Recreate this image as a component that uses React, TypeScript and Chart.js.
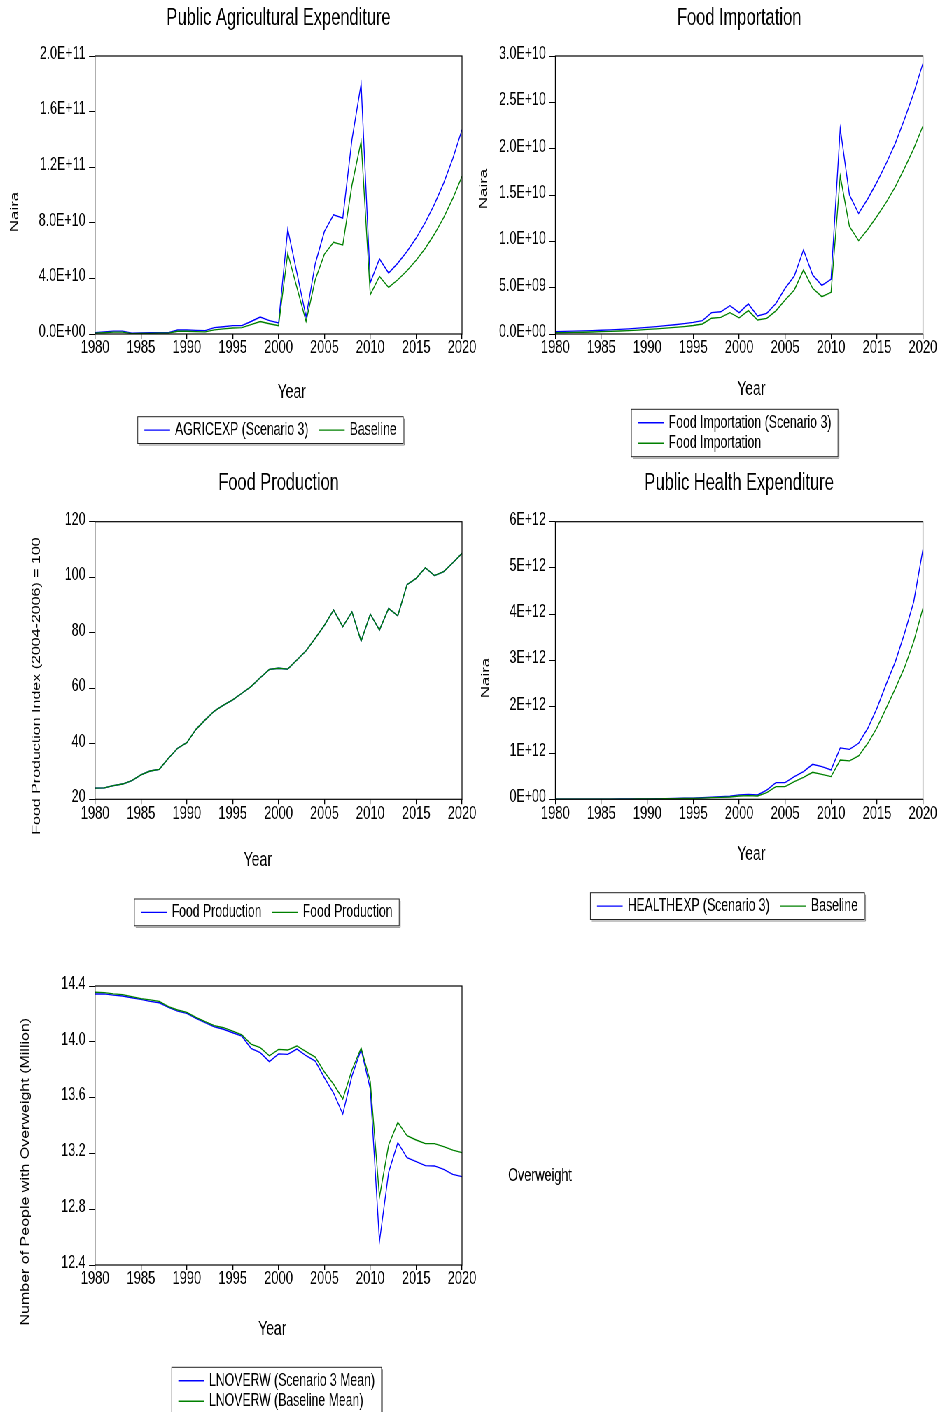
import React, { useEffect, useRef } from 'react';
import { Chart, registerables } from 'chart.js';

Chart.register(...registerables);

// The figure is laid out in page pixels and drawn into a horizontally
// condensed space, which gives the tall, narrow lettering of the panels.
const SQUISH = 0.7;
const PAGE_W = 941;
const PAGE_H = 1412;
const FONT = '"Liberation Sans", Arial, Helvetica, sans-serif';
const BLUE = '#0000ff';
const GREEN = '#008000';

const years = [
  1980, 1981, 1982, 1983, 1984, 1985, 1986, 1987, 1988, 1989,
  1990, 1991, 1992, 1993, 1994, 1995, 1996, 1997, 1998, 1999,
  2000, 2001, 2002, 2003, 2004, 2005, 2006, 2007, 2008, 2009,
  2010, 2011, 2012, 2013, 2014, 2015, 2016, 2017, 2018, 2019,
  2020,
];

// Public agricultural expenditure (Naira)
const agriScenario3 = [
  1.0e9, 1.5e9, 2.1e9, 2.1e9, 0.6e9, 0.8e9, 0.9e9, 1.0e9, 1.0e9, 2.9e9,
  2.9e9, 2.6e9, 2.4e9, 4.6e9, 5.2e9, 6.0e9, 6.0e9, 9.0e9, 12.2e9, 9.6e9,
  7.9e9, 75.5e9, 44.0e9, 12.2e9, 50.6e9, 73.8e9, 85.8e9, 83.4e9, 139.8e9, 179.8e9,
  37.0e9, 54.0e9, 43.9e9, 51.0e9, 59.4e9, 69.0e9, 80.3e9, 93.4e9, 108.6e9, 126.3e9,
  147.0e9,
];
const agriBaseline = [
  0.6e9, 0.9e9, 1.3e9, 1.3e9, 0.3e9, 0.5e9, 0.5e9, 0.6e9, 0.6e9, 2.0e9,
  2.0e9, 1.7e9, 1.5e9, 3.0e9, 3.7e9, 4.3e9, 4.6e9, 6.8e9, 9.0e9, 7.4e9,
  6.0e9, 58.0e9, 33.5e9, 9.0e9, 39.0e9, 57.5e9, 66.0e9, 64.0e9, 107.0e9, 138.6e9,
  28.3e9, 41.4e9, 33.5e9, 39.0e9, 45.5e9, 53.0e9, 61.7e9, 71.9e9, 83.7e9, 97.5e9,
  113.4e9,
];

// Food importation (Naira)
const foodImpScenario3 = [
  0.25e9, 0.28e9, 0.31e9, 0.34e9, 0.37e9, 0.41e9, 0.45e9, 0.5e9, 0.56e9, 0.63e9,
  0.72e9, 0.8e9, 0.9e9, 1.0e9, 1.12e9, 1.25e9, 1.45e9, 2.3e9, 2.4e9, 3.05e9,
  2.3e9, 3.24e9, 1.94e9, 2.23e9, 3.3e9, 4.93e9, 6.26e9, 9.06e9, 6.37e9, 5.25e9,
  5.9e9, 22.2e9, 15.0e9, 13.0e9, 14.6e9, 16.4e9, 18.4e9, 20.6e9, 23.2e9, 26.0e9,
  29.2e9,
];
const foodImpBaseline = [
  0.13e9, 0.15e9, 0.17e9, 0.19e9, 0.22e9, 0.25e9, 0.28e9, 0.32e9, 0.36e9, 0.42e9,
  0.5e9, 0.56e9, 0.63e9, 0.71e9, 0.8e9, 0.92e9, 1.08e9, 1.7e9, 1.8e9, 2.3e9,
  1.75e9, 2.52e9, 1.51e9, 1.69e9, 2.5e9, 3.67e9, 4.75e9, 6.9e9, 4.93e9, 4.03e9,
  4.5e9, 17.05e9, 11.6e9, 10.07e9, 11.3e9, 12.7e9, 14.2e9, 15.9e9, 17.9e9, 20.0e9,
  22.45e9,
];

// Food production index (2004-2006 = 100)
const foodProdScenario3 = [
  24.0, 24.1, 24.9, 25.5, 26.7, 28.8, 30.2, 30.8, 34.8, 38.4,
  40.4, 45.2, 48.6, 51.8, 53.9, 55.8, 58.2, 60.6, 63.8, 66.8,
  67.2, 66.9, 70.2, 73.5, 78.0, 82.7, 88.2, 82.2, 87.5, 77.0,
  86.7, 81.0, 88.8, 86.1, 97.3, 99.6, 103.4, 100.6, 102.0, 105.2,
  108.6,
];
const foodProdBaseline = [
  24.0, 24.1, 24.9, 25.5, 26.7, 28.8, 30.2, 30.8, 34.8, 38.4,
  40.4, 45.2, 48.6, 51.8, 53.9, 55.8, 58.2, 60.6, 63.8, 66.8,
  67.2, 66.9, 70.2, 73.5, 78.0, 82.7, 88.2, 82.2, 87.5, 77.0,
  86.7, 81.0, 88.8, 86.1, 97.3, 99.6, 103.4, 100.6, 102.0, 105.2,
  108.6,
];

// Public health expenditure (Naira)
const healthScenario3 = [
  0.003e12, 0.003e12, 0.004e12, 0.004e12, 0.004e12, 0.005e12, 0.005e12, 0.006e12, 0.007e12, 0.008e12,
  0.010e12, 0.012e12, 0.015e12, 0.018e12, 0.022e12, 0.026e12, 0.035e12, 0.045e12, 0.055e12, 0.065e12,
  0.094e12, 0.108e12, 0.094e12, 0.20e12, 0.36e12, 0.36e12, 0.49e12, 0.60e12, 0.756e12, 0.706e12,
  0.634e12, 1.11e12, 1.08e12, 1.21e12, 1.535e12, 1.97e12, 2.49e12, 2.975e12, 3.59e12, 4.27e12,
  5.40e12,
];
const healthBaseline = [
  0.002e12, 0.002e12, 0.003e12, 0.003e12, 0.003e12, 0.004e12, 0.004e12, 0.005e12, 0.005e12, 0.006e12,
  0.008e12, 0.009e12, 0.011e12, 0.014e12, 0.017e12, 0.020e12, 0.027e12, 0.035e12, 0.042e12, 0.050e12,
  0.072e12, 0.080e12, 0.072e12, 0.144e12, 0.274e12, 0.274e12, 0.38e12, 0.475e12, 0.584e12, 0.54e12,
  0.49e12, 0.85e12, 0.83e12, 0.937e12, 1.21e12, 1.55e12, 1.97e12, 2.40e12, 2.85e12, 3.41e12,
  4.13e12,
];

// Number of people with overweight (million, log scale mean)
const overweightScenario3 = [
  14.343, 14.343, 14.335, 14.328, 14.316, 14.304, 14.29, 14.28, 14.247, 14.22,
  14.204, 14.168, 14.137, 14.108, 14.09, 14.065, 14.04, 13.953, 13.922, 13.858,
  13.913, 13.91, 13.948, 13.9, 13.862, 13.742, 13.632, 13.482, 13.755, 13.946,
  13.662, 12.57, 13.065, 13.277, 13.169, 13.141, 13.112, 13.11, 13.086, 13.05,
  13.033,
];
const overweightBaseline = [
  14.355, 14.352, 14.343, 14.338, 14.324, 14.309, 14.3, 14.29, 14.252, 14.228,
  14.211, 14.175, 14.144, 14.116, 14.101, 14.077, 14.049, 13.984, 13.958, 13.9,
  13.946, 13.941, 13.97, 13.929, 13.89, 13.784, 13.696, 13.59, 13.798, 13.956,
  13.714, 12.888, 13.26, 13.423, 13.327, 13.296, 13.27, 13.27, 13.248, 13.224,
  13.205,
];

function sciLabel(v: number, digits: number): string {
  const [mant, exp] = Number(v).toExponential(digits).split('e');
  const sign = exp.startsWith('-') ? '-' : '+';
  return `${mant}E${sign}${exp.replace(/^[+-]/, '').padStart(2, '0')}`;
}

type Caption = { text: string; x: number; y: number; size: number; vertical?: boolean };
type Series = { label: string; values: number[]; color: string };
type PanelSpec = {
  key: string;
  frame: { left: number; top: number; width: number; height: number };
  plot: { l: number; r: number; t: number; b: number };
  title?: string;
  titleMid?: number;
  y: { min: number; max: number; step: number; format: (v: number) => string };
  series: Series[];
  legend: { left: number; top: number; rows: number[][] };
  captions: Caption[];
};

const panels: PanelSpec[] = [
  {
    key: 'agri',
    frame: { left: 0, top: 0, width: 482, height: 465 },
    plot: { l: 95, r: 462, t: 56, b: 334 },
    title: 'Public Agricultural Expenditure',
    titleMid: 19,
    y: { min: 0, max: 2e11, step: 4e10, format: (v) => sciLabel(v, 1) },
    series: [
      { label: 'AGRICEXP (Scenario 3)', values: agriScenario3, color: BLUE },
      { label: 'Baseline', values: agriBaseline, color: GREEN },
    ],
    legend: { left: 137.7, top: 416.7, rows: [[0, 1]] },
    captions: [
      { text: 'Naira', x: 15, y: 212, size: 17, vertical: true },
      { text: 'Year', x: 291.7, y: 392.5, size: 20 },
    ],
  },
  {
    key: 'import',
    frame: { left: 470, top: 0, width: 471, height: 465 },
    plot: { l: 555.7, r: 923.3, t: 56, b: 334 },
    title: 'Food Importation',
    titleMid: 19,
    y: { min: 0, max: 3e10, step: 5e9, format: (v) => sciLabel(v, 1) },
    series: [
      { label: 'Food Importation (Scenario 3)', values: foodImpScenario3, color: BLUE },
      { label: 'Food Importation', values: foodImpBaseline, color: GREEN },
    ],
    legend: { left: 631.7, top: 409.3, rows: [[0], [1]] },
    captions: [
      { text: 'Naira', x: 484, y: 189, size: 17, vertical: true },
      { text: 'Year', x: 751.7, y: 389.2, size: 20 },
    ],
  },
  {
    key: 'production',
    frame: { left: 0, top: 468, width: 482, height: 480 },
    plot: { l: 95, r: 462, t: 521.7, b: 799.3 },
    title: 'Food Production',
    titleMid: 483.4,
    y: { min: 20, max: 120, step: 20, format: (v) => String(Math.round(v)) },
    series: [
      { label: 'Food Production', values: foodProdScenario3, color: BLUE },
      { label: 'Food Production', values: foodProdBaseline, color: GREEN },
    ],
    legend: { left: 134.3, top: 899, rows: [[0, 1]] },
    captions: [
      { text: 'Food Production Index (2004-2006) = 100', x: 37, y: 686, size: 16, vertical: true },
      { text: 'Year', x: 257.8, y: 860.8, size: 20 },
    ],
  },
  {
    key: 'health',
    frame: { left: 470, top: 468, width: 471, height: 480 },
    plot: { l: 555.7, r: 923.3, t: 521.7, b: 799.3 },
    title: 'Public Health Expenditure',
    titleMid: 483.4,
    y: { min: 0, max: 6e12, step: 1e12, format: (v) => sciLabel(v, 0) },
    series: [
      { label: 'HEALTHEXP (Scenario 3)', values: healthScenario3, color: BLUE },
      { label: 'Baseline', values: healthBaseline, color: GREEN },
    ],
    legend: { left: 590.7, top: 892.7, rows: [[0, 1]] },
    captions: [
      { text: 'Naira', x: 486, y: 678, size: 17, vertical: true },
      { text: 'Year', x: 751.7, y: 854.2, size: 20 },
    ],
  },
  {
    key: 'overweight',
    frame: { left: 0, top: 950, width: 600, height: 462 },
    plot: { l: 95, r: 462, t: 986, b: 1265 },
    y: { min: 12.4, max: 14.4, step: 0.4, format: (v) => Number(v).toFixed(1) },
    series: [
      { label: 'LNOVERW (Scenario 3 Mean)', values: overweightScenario3, color: BLUE },
      { label: 'LNOVERW (Baseline Mean)', values: overweightBaseline, color: GREEN },
    ],
    legend: { left: 171.7, top: 1367.3, rows: [[0], [1]] },
    captions: [
      { text: 'Number of People with Overweight (Million)', x: 25.5, y: 1171.7, size: 16, vertical: true },
      { text: 'Year', x: 272.2, y: 1329.2, size: 20 },
      { text: 'Overweight', x: 540, y: 1176, size: 18 },
    ],
  },
];

// Thin black box around the plotting area
const plotFrame = {
  id: 'plotFrame',
  afterDatasetsDraw(chart: Chart) {
    const { ctx, chartArea: a } = chart;
    ctx.save();
    ctx.strokeStyle = '#000';
    ctx.lineWidth = 1.2;
    ctx.strokeRect(a.left, a.top, a.right - a.left, a.bottom - a.top);
    ctx.restore();
  },
};

function captionsPlugin(spec: PanelSpec) {
  return {
    id: 'panelCaptions',
    afterDraw(chart: Chart) {
      const ctx = chart.ctx;
      ctx.save();
      ctx.fillStyle = '#000';
      ctx.textAlign = 'center';
      ctx.textBaseline = 'middle';
      for (const c of spec.captions) {
        ctx.font = `${c.size}px ${FONT}`;
        const x = (c.x - spec.frame.left) / SQUISH;
        const y = c.y - spec.frame.top;
        ctx.save();
        ctx.translate(x, y);
        if (c.vertical) ctx.rotate(-Math.PI / 2);
        ctx.fillText(c.text, 0, 0);
        ctx.restore();
      }
      ctx.restore();
    },
  };
}

// Boxed legend: line sample + label, one or more rows
function boxLegendPlugin(spec: PanelSpec) {
  return {
    id: 'boxLegend',
    afterDraw(chart: Chart) {
      const ctx = chart.ctx;
      const u = (v: number) => v / SQUISH;
      const left = (spec.legend.left - spec.frame.left) / SQUISH;
      const top = spec.legend.top - spec.frame.top;
      const padX = u(6.6);
      const lineLen = u(25.7);
      const gap = u(5);
      const itemGap = u(10.5);
      const padY = 3.1;
      const rowH = 20.6;
      const datasets = chart.data.datasets;
      ctx.save();
      ctx.font = `17.5px ${FONT}`;
      const rowWidths = spec.legend.rows.map((row) =>
        row.reduce(
          (acc, idx, j) =>
            acc + (j ? itemGap : 0) + lineLen + gap + ctx.measureText(String(datasets[idx].label)).width,
          0,
        ),
      );
      const boxW = padX * 2 + Math.max(...rowWidths);
      const boxH = padY * 2 + rowH * spec.legend.rows.length;
      ctx.fillStyle = '#fff';
      ctx.fillRect(left, top, boxW, boxH);
      ctx.strokeStyle = '#8a8a8a';
      ctx.lineWidth = 1;
      ctx.beginPath();
      ctx.moveTo(left + boxW + 1.5, top + 2);
      ctx.lineTo(left + boxW + 1.5, top + boxH + 1.5);
      ctx.lineTo(left + 2, top + boxH + 1.5);
      ctx.stroke();
      ctx.strokeStyle = '#222';
      ctx.strokeRect(left, top, boxW, boxH);
      ctx.textAlign = 'left';
      ctx.textBaseline = 'middle';
      spec.legend.rows.forEach((row, r) => {
        const cy = top + padY + rowH * (r + 0.5);
        let x = left + padX;
        row.forEach((idx) => {
          const ds = datasets[idx];
          ctx.strokeStyle = String(ds.borderColor);
          ctx.lineWidth = 1.4;
          ctx.beginPath();
          ctx.moveTo(x, cy);
          ctx.lineTo(x + lineLen, cy);
          ctx.stroke();
          ctx.fillStyle = '#000';
          const label = String(ds.label);
          ctx.fillText(label, x + lineLen + gap, cy);
          x += lineLen + gap + ctx.measureText(label).width + itemGap;
        });
      });
      ctx.restore();
    },
  };
}

function buildConfig(spec: PanelSpec, W: number, H: number): any {
  const plotL = (spec.plot.l - spec.frame.left) / SQUISH;
  const plotR = (spec.plot.r - spec.frame.left) / SQUISH;
  const plotT = spec.plot.t - spec.frame.top;
  const plotB = spec.plot.b - spec.frame.top;
  const xAxisH = 30;
  const titleSize = 23.5;
  const titleLH = 1.2;
  const titleH = titleSize * titleLH;
  let titlePadTop = 0;
  let titlePadBottom = 0;
  let layoutTop = plotT;
  if (spec.title && spec.titleMid !== undefined) {
    titlePadTop = spec.titleMid - spec.frame.top - titleH / 2;
    titlePadBottom = plotT - titleH - titlePadTop;
    layoutTop = 0;
  }
  const n = spec.series.length;
  return {
    type: 'line',
    data: {
      datasets: spec.series.map((s, i) => ({
        label: s.label,
        data: years.map((yr, j) => ({ x: yr, y: s.values[j] })),
        borderColor: s.color,
        backgroundColor: s.color,
        borderWidth: 1.35,
        pointRadius: 0,
        pointHoverRadius: 0,
        tension: 0,
        fill: false,
        order: n - 1 - i,
      })),
    },
    options: {
      responsive: false,
      animation: false,
      events: [],
      layout: {
        padding: { left: 0, right: W - plotR, top: layoutTop, bottom: H - plotB - xAxisH },
      },
      plugins: {
        legend: { display: false },
        tooltip: { enabled: false },
        title: {
          display: !!spec.title,
          text: spec.title || '',
          fullSize: false,
          color: '#000',
          font: { family: FONT, size: titleSize, weight: 'normal', lineHeight: titleLH },
          padding: { top: titlePadTop, bottom: titlePadBottom },
        },
      },
      scales: {
        x: {
          type: 'linear',
          min: 1980,
          max: 2020,
          afterFit: (scale: any) => {
            scale.height = xAxisH;
          },
          border: { display: false },
          grid: { drawOnChartArea: false, drawTicks: true, tickLength: 5, color: '#000', lineWidth: 1.3 },
          ticks: {
            stepSize: 5,
            padding: 0,
            maxRotation: 0,
            autoSkip: false,
            color: '#000',
            font: { family: FONT, size: 18.5, lineHeight: 1 },
            callback: (v: number) => String(v),
          },
        },
        y: {
          type: 'linear',
          min: spec.y.min,
          max: spec.y.max,
          afterFit: (scale: any) => {
            scale.width = plotL;
          },
          border: { display: false },
          grid: { drawOnChartArea: false, drawTicks: true, tickLength: 8.6, color: '#000', lineWidth: 1 },
          ticks: {
            stepSize: spec.y.step,
            padding: 5,
            labelOffset: -2,
            autoSkip: false,
            color: '#000',
            font: { family: FONT, size: 17.8, lineHeight: 1 },
            callback: (v: number) => spec.y.format(v),
          },
        },
      },
    },
    plugins: [plotFrame, captionsPlugin(spec), boxLegendPlugin(spec)],
  };
}

function Panel({ spec }: { spec: PanelSpec }) {
  const ref = useRef<HTMLCanvasElement>(null);
  const w = Math.round(spec.frame.width / SQUISH);
  const h = spec.frame.height;
  useEffect(() => {
    if (!ref.current) return;
    const chart = new Chart(ref.current, buildConfig(spec, w, h));
    return () => chart.destroy();
  }, [spec, w, h]);
  return (
    <canvas
      ref={ref}
      width={w}
      height={h}
      style={{
        position: 'absolute',
        left: spec.frame.left / SQUISH,
        top: spec.frame.top,
        width: w,
        height: h,
      }}
    />
  );
}

export default function App() {
  return (
    <div
      style={{
        position: 'absolute',
        left: 0,
        top: 0,
        width: PAGE_W,
        height: PAGE_H,
        overflow: 'hidden',
        background: '#fff',
      }}
    >
      <div
        style={{
          position: 'absolute',
          left: 0,
          top: 0,
          width: PAGE_W / SQUISH,
          height: PAGE_H,
          transform: `scaleX(${SQUISH})`,
          transformOrigin: '0 0',
        }}
      >
        {panels.map((p) => (
          <Panel key={p.key} spec={p} />
        ))}
      </div>
    </div>
  );
}
